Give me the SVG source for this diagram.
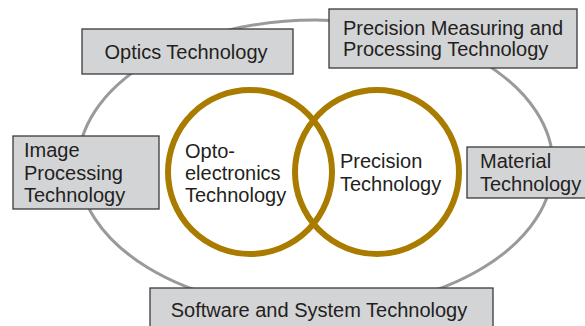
<svg xmlns="http://www.w3.org/2000/svg" width="585" height="326" viewBox="0 0 585 326">
  <style>
    .box { fill: #d3d4d6; stroke: #3a3a3a; stroke-width: 1.3; }
    .lbl { font-family: "Liberation Sans", Arial, sans-serif; font-size: 20px; fill: #231f20; }
    .ring { fill: none; stroke: #a97c00; stroke-width: 6; }
    .outer { fill: none; stroke: #9a9a9c; stroke-width: 3; }
  </style>

  <!-- outer ring enclosing the core fields -->
  <g id="connectors">
    <ellipse class="outer" cx="315.5" cy="165" rx="237.5" ry="145"/>
  </g>

  <!-- core fields -->
  <g id="opto-electronics">
    <circle class="ring" cx="250" cy="172" r="82"/>
    <text class="lbl" x="185" y="158">Opto-</text>
    <text class="lbl" x="185" y="180">electronics</text>
    <text class="lbl" x="185" y="202">Technology</text>
  </g>
  <g id="precision">
    <circle class="ring" cx="377" cy="172" r="82"/>
    <text class="lbl" x="340" y="168">Precision</text>
    <text class="lbl" x="340" y="191">Technology</text>
  </g>

  <!-- surrounding fields -->
  <g id="optics">
    <rect class="box" x="82" y="29" width="211" height="45"/>
    <text class="lbl" x="186" y="59" text-anchor="middle">Optics Technology</text>
  </g>
  <g id="precision-measuring">
    <rect class="box" x="329" y="9" width="248" height="59"/>
    <text class="lbl" x="343" y="35">Precision Measuring and</text>
    <text class="lbl" x="343" y="56">Processing Technology</text>
  </g>
  <g id="image-processing">
    <rect class="box" x="13" y="136" width="146" height="73"/>
    <text class="lbl" x="24" y="157">Image</text>
    <text class="lbl" x="24" y="179.5">Processing</text>
    <text class="lbl" x="24" y="202">Technology</text>
  </g>
  <g id="material">
    <rect class="box" x="467" y="147" width="122" height="51"/>
    <text class="lbl" x="480" y="168">Material</text>
    <text class="lbl" x="480" y="191">Technology</text>
  </g>
  <g id="software-system">
    <rect class="box" x="150" y="288" width="343" height="50"/>
    <text class="lbl" x="319" y="317" text-anchor="middle">Software and System Technology</text>
  </g>
</svg>
